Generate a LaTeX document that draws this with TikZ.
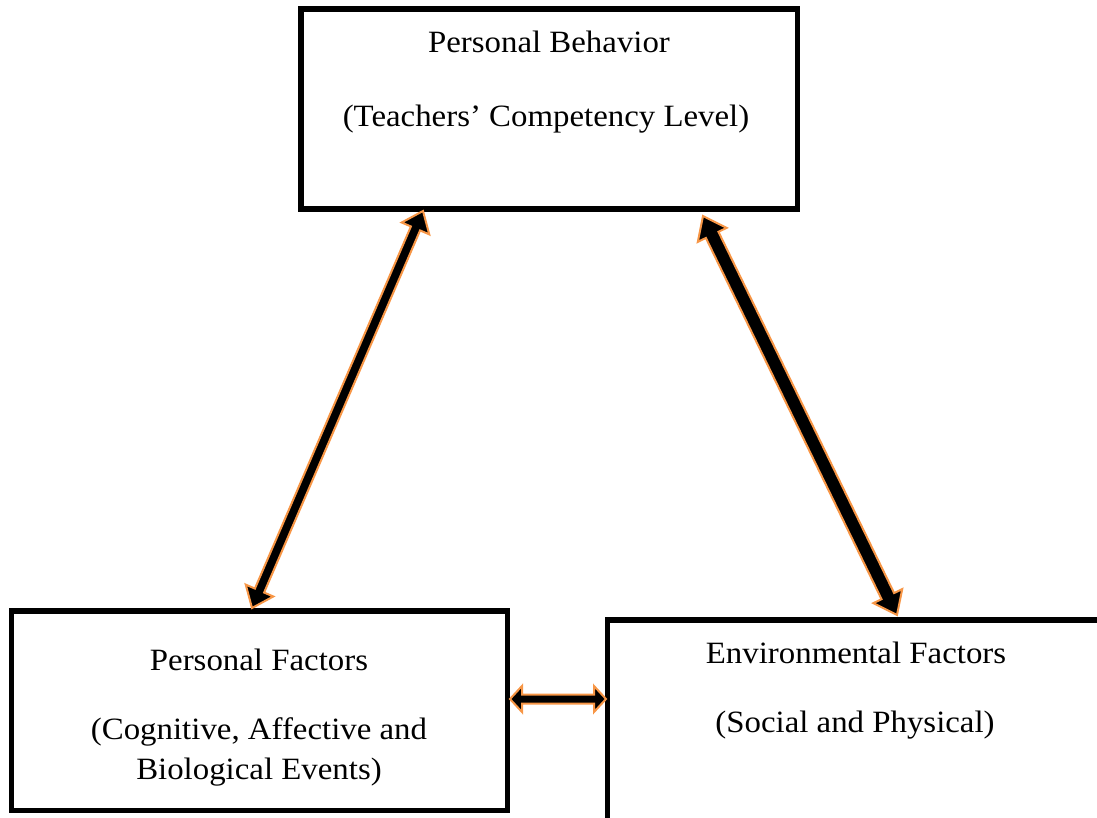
\documentclass[tikz,border=0pt]{standalone}
\usepackage{fontspec}
\setmainfont{Liberation Serif}[FakeStretch=1.06]
\usetikzlibrary{calc}
\definecolor{arrorange}{RGB}{247,150,70}
\tikzset{
  boxnode/.style={draw=black, line width=5.5pt, inner sep=0pt, fill=none},
  lbl/.style={anchor=base, inner sep=0pt, font=\fontsize{31}{37}\selectfont},
  arrowbody/.style={fill=black, draw=arrorange, line width=2pt, line join=miter},
}
\newcommand\twoheadarrow[5]{%
  \coordinate (h1) at ($(#1)!#5!(#2)$);
  \coordinate (h2) at ($(#2)!#5!(#1)$);
  \draw[arrowbody] (#1)
    -- ($(h1)!#4!90:(#2)$) -- ($(h1)!#3!90:(#2)$)
    -- ($(h2)!#3!-90:(#1)$) -- ($(h2)!#4!-90:(#1)$)
    -- (#2)
    -- ($(h2)!#4!90:(#1)$) -- ($(h2)!#3!90:(#1)$)
    -- ($(h1)!#3!-90:(#2)$) -- ($(h1)!#4!-90:(#2)$)
    -- cycle;
}
\begin{document}
\begin{tikzpicture}[x=1pt,y=-1pt]
\useasboundingbox (0,0) rectangle (1097,818);
\clip (0,0) rectangle (1097,818);
% boxes
\node[boxnode, minimum width=496.5pt, minimum height=200pt] (top) at (549.25,109) {};
\node[boxnode, minimum width=496pt, minimum height=199.5pt] (left) at (259.5,710.75) {};
\node[boxnode, minimum width=500pt, minimum height=220pt] (right) at (857.5,730) {};
% texts
\node[lbl] (t1) at (549,53) {Personal Behavior};
\node[lbl] (t2) at (546,127) {(Teachers’ Competency Level)};
\node[lbl] (l1) at (259,670) {Personal Factors};
\node[lbl] (l2) at (259,739) {(Cognitive, Affective and};
\node[lbl] (l3) at (259,779) {Biological Events)};
\node[lbl] (r1) at (856,663) {Environmental Factors};
\node[lbl] (r2) at (855,732) {(Social and Physical)};
% arrow end points
\coordinate (a1) at (423,211);
\coordinate (a2) at (252,608);
\coordinate (b1) at (703,216);
\coordinate (b2) at (897,615);
\coordinate (c1) at (510,699);
\coordinate (c2) at (606,699);
\twoheadarrow{a1}{a2}{5pt}{15pt}{19pt}
\twoheadarrow{b1}{b2}{7pt}{16pt}{21pt}
\twoheadarrow{c1}{c2}{4.5pt}{13pt}{12pt}
\end{tikzpicture}
\end{document}
